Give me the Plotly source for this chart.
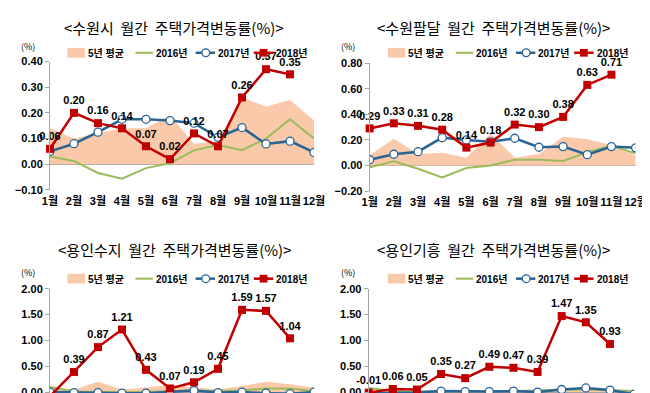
import plotly.graph_objects as go

months = ["1월", "2월", "3월", "4월", "5월", "6월", "7월", "8월", "9월", "10월", "11월", "12월"]
month_idx = list(range(1, 13))
series_names = ["5년 평균", "2016년", "2017년", "2018년"]

# 수원시
suwon_avg5 = [0.14, 0.10, 0.12, 0.14, 0.14, 0.19, 0.08, 0.09, 0.26, 0.225, 0.25, 0.17]
suwon_2016 = [0.03, 0.013, -0.034, -0.056, -0.015, 0.004, 0.054, 0.075, 0.055, 0.10, 0.175, 0.10]
suwon_2017 = [0.05, 0.08, 0.125, 0.175, 0.175, 0.17, 0.16, 0.105, 0.143, 0.079, 0.09, 0.046]
suwon_2018 = [0.06, 0.20, 0.16, 0.14, 0.07, 0.02, 0.12, 0.07, 0.26, 0.37, 0.35]

# 수원팔달
paldal_avg5 = [0.08, 0.21, 0.09, 0.10, 0.06, 0.25, 0.06, 0.09, 0.225, 0.205, 0.16, 0.08]
paldal_2016 = [-0.013, 0.033, -0.025, -0.093, -0.02, 0.0, 0.045, 0.045, 0.035, 0.105, 0.155, 0.095]
paldal_2017 = [0.045, 0.088, 0.108, 0.218, 0.20, 0.185, 0.213, 0.143, 0.148, 0.085, 0.148, 0.138]
paldal_2018 = [0.29, 0.33, 0.31, 0.28, 0.14, 0.18, 0.32, 0.30, 0.38, 0.63, 0.71]

# 용인수지
suji_avg5 = [0.10, 0.05, 0.20, 0.05, 0.09, 0.14, 0.09, 0.05, 0.12, 0.20, 0.15, 0.09]
suji_2016 = [0.10, 0.01, 0.0, 0.0, 0.0, 0.02, 0.03, 0.02, 0.03, 0.07, 0.07, 0.02]
suji_2017 = [0.0, -0.01, -0.01, -0.02, -0.02, 0.01, 0.03, -0.01, 0.0, -0.02, -0.03, 0.0]
suji_2018 = [-0.08, 0.39, 0.87, 1.21, 0.43, 0.07, 0.19, 0.45, 1.59, 1.57, 1.04]

# 용인기흥
giheung_avg5 = [0.05, 0.03, 0.02, 0.02, 0.02, 0.03, 0.04, 0.03, 0.05, 0.05, 0.05, 0.03]
giheung_2016 = [0.08, 0.02, 0.01, 0.01, 0.01, 0.01, 0.02, 0.03, 0.05, 0.05, 0.04, 0.02]
giheung_2017 = [-0.02, -0.02, -0.01, 0.02, 0.01, 0.01, 0.02, 0.0, 0.05, 0.08, 0.04, -0.04]
giheung_2018 = [-0.01, 0.06, 0.05, 0.35, 0.27, 0.49, 0.47, 0.39, 1.47, 1.35, 0.93]

titles = ["<수원시  월간  주택가격변동률(%)>", "<수원팔달  월간  주택가격변동률(%)>",
          "<용인수지  월간  주택가격변동률(%)>", "<용인기흥  월간  주택가격변동률(%)>"]

W, H = 650, 393
C_AVG = "#F9C9A9"
C_16 = "#9BBB59"
C_17 = "#2A6496"
C_18 = "#C00000"
C_AX = "#A6A6A6"
FONT = "Liberation Sans, Noto Sans CJK KR, sans-serif"
KFONT = "Noto Sans CJK KR, sans-serif"


def px(x):
    return x / W


def py(y):
    return 1 - y / H


panels = [
    dict(avg=suwon_avg5, s16=suwon_2016, s17=suwon_2017, s18=suwon_2018,
         xd=(35, 307), yd=(181.5, 49), yr=(-0.1, 0.4), dt=0.1, xlabels=True,
         ox=0, oy=0, tx=163, ty=14),
    dict(avg=paldal_avg5, s16=paldal_2016, s17=paldal_2017, s18=paldal_2018,
         xd=(364.3, 638.3), yd=(182.7, 50.7), yr=(-0.2, 0.8), dt=0.2, xlabels=True,
         ox=330, oy=0, tx=492, ty=14),
    dict(avg=suji_avg5, s16=suji_2016, s17=suji_2017, s18=suji_2018,
         xd=(35, 307), yd=(393, 283.3), yr=(-0.056, 2.0), dt=0.5, xlabels=False,
         ox=0, oy=233, tx=163, ty=243),
    dict(avg=giheung_avg5, s16=giheung_2016, s17=giheung_2017, s18=giheung_2018,
         xd=(363.3, 636.7), yd=(393, 283.3), yr=(-0.056, 2.0), dt=0.5, xlabels=False,
         ox=330, oy=233, tx=492, ty=243),
]

fig = go.Figure()
shapes = []
annotations = []

for i, p in enumerate(panels):
    n = "" if i == 0 else str(i + 1)
    xa, ya = "x" + n, "y" + n
    fig.add_trace(go.Scatter(x=month_idx, y=p["avg"], xaxis=xa, yaxis=ya, mode="lines",
                             line=dict(width=0, color=C_AVG), fill="tozeroy",
                             fillcolor=C_AVG, name=series_names[0], showlegend=False))
    fig.add_trace(go.Scatter(x=month_idx, y=p["s16"], xaxis=xa, yaxis=ya, mode="lines",
                             line=dict(width=2, color=C_16), name=series_names[1],
                             showlegend=False))
    fig.add_trace(go.Scatter(x=month_idx, y=p["s17"], xaxis=xa, yaxis=ya, mode="lines+markers",
                             line=dict(width=2.5, color=C_17),
                             marker=dict(symbol="circle", size=8, color="white",
                                         line=dict(width=1.3, color=C_17)),
                             name=series_names[2], showlegend=False))
    fig.add_trace(go.Scatter(x=month_idx[:len(p["s18"])], y=p["s18"], xaxis=xa, yaxis=ya,
                             mode="lines+markers+text",
                             line=dict(width=2.5, color=C_18),
                             marker=dict(symbol="square", size=8, color=C_18),
                             text=[f"{v:.2f}" for v in p["s18"]], textposition="top center",
                             textfont=dict(family=FONT, size=11, color="black", weight="bold"),
                             cliponaxis=False, name=series_names[3], showlegend=False))

    fig.update_layout(**{
        "xaxis" + n: dict(domain=[px(p["xd"][0]), px(p["xd"][1])], range=[1, 12],
                          anchor=ya, tickmode="array", tickvals=month_idx, ticktext=months,
                          showticklabels=p["xlabels"], showgrid=False, zeroline=False,
                          showline=False, ticks="", tickangle=0, ticklabelstandoff=3,
                          tickfont=dict(family=FONT, size=11, color="black", weight="bold")),
        "yaxis" + n: dict(domain=[py(p["yd"][0]), py(p["yd"][1])], range=list(p["yr"]),
                          anchor=xa, dtick=p["dt"], tick0=0, tickformat=".2f",
                          showgrid=False, zeroline=True, zerolinecolor=C_AX, zerolinewidth=1,
                          showline=True, linecolor=C_AX, linewidth=1, ticks="outside",
                          ticklen=4, tickcolor=C_AX,
                          tickfont=dict(family=FONT, size=11, color="black", weight="bold")),
    })

    # title
    annotations.append(dict(x=px(p["tx"]), y=py(p["ty"]), xref="paper", yref="paper",
                            text=titles[i], showarrow=False, xanchor="center", yanchor="middle",
                            font=dict(family=KFONT, size=15, color="black")))
    # unit label
    annotations.append(dict(x=px(12.5 + p["ox"]), y=py(p["oy"] + 34), xref="paper", yref="paper",
                            text="(%)", showarrow=False, xanchor="center", yanchor="middle",
                            font=dict(family=KFONT, size=9, color="black")))

    # legend (drawn manually)
    ox, ly = p["ox"], p["oy"] + 40
    shapes.append(dict(type="rect", xref="paper", yref="paper",
                       x0=px(53 + ox), x1=px(71 + ox), y0=py(ly + 5), y1=py(ly - 5),
                       fillcolor=C_AVG, line=dict(width=0)))
    shapes.append(dict(type="line", xref="paper", yref="paper",
                       x0=px(123 + ox), x1=px(141 + ox), y0=py(ly), y1=py(ly),
                       line=dict(color=C_16, width=2)))
    shapes.append(dict(type="line", xref="paper", yref="paper",
                       x0=px(185 + ox), x1=px(205 + ox), y0=py(ly), y1=py(ly),
                       line=dict(color=C_17, width=2.5)))
    shapes.append(dict(type="circle", xref="paper", yref="paper",
                       x0=px(191.5 + ox), x1=px(199.5 + ox), y0=py(ly + 4), y1=py(ly - 4),
                       fillcolor="white", line=dict(color=C_17, width=1.3)))
    shapes.append(dict(type="line", xref="paper", yref="paper",
                       x0=px(245 + ox), x1=px(265 + ox), y0=py(ly), y1=py(ly),
                       line=dict(color=C_18, width=2.5)))
    shapes.append(dict(type="rect", xref="paper", yref="paper",
                       x0=px(251 + ox), x1=px(259 + ox), y0=py(ly + 4), y1=py(ly - 4),
                       fillcolor=C_18, line=dict(width=0)))
    for tx, name in zip([72, 142, 206, 266], series_names):
        annotations.append(dict(x=px(tx + ox), y=py(ly), xref="paper", yref="paper",
                                text=name, showarrow=False, xanchor="left", yanchor="middle",
                                font=dict(family=FONT, size=10, color="black", weight="bold")))

fig.update_layout(width=W, height=H, margin=dict(l=0, r=0, t=0, b=0),
                  paper_bgcolor="white", plot_bgcolor="white", showlegend=False,
                  shapes=shapes, annotations=annotations)

fig.write_html("out.html")
